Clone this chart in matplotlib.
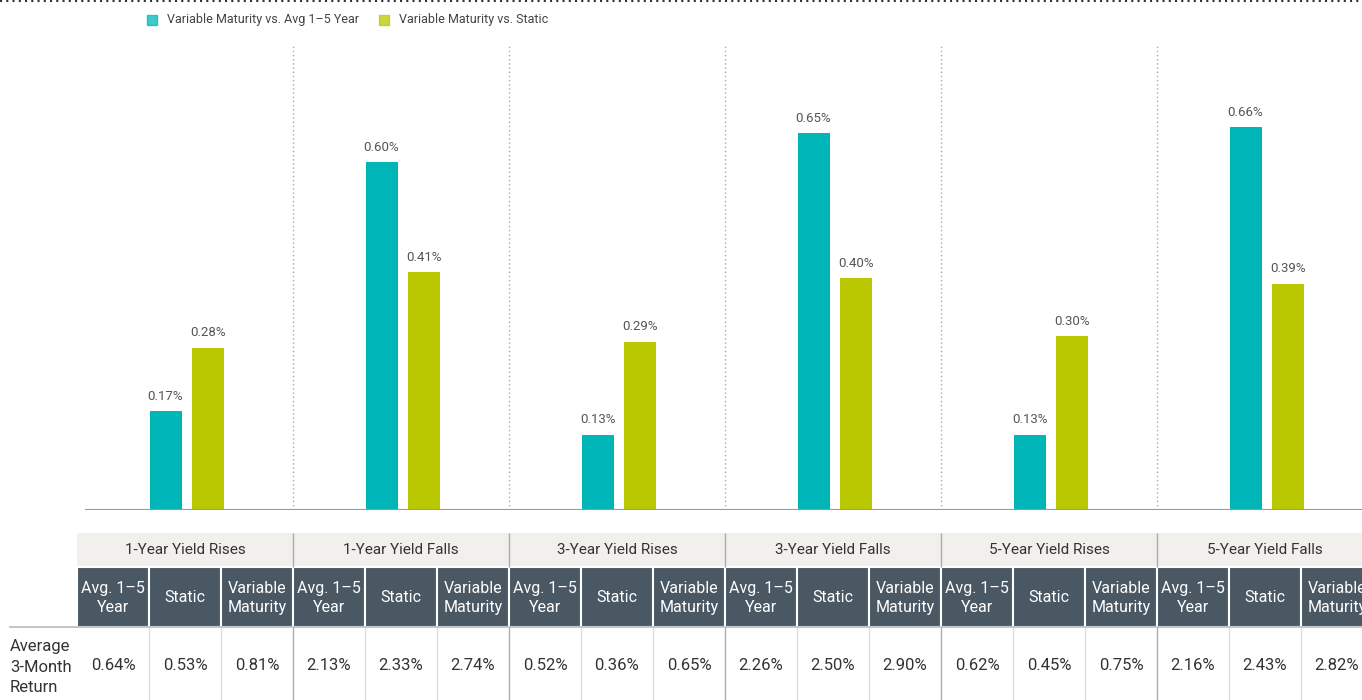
import matplotlib.pyplot as plt
from matplotlib.patches import Rectangle

plt.rcParams["font.family"] = ["Roboto", "DejaVu Sans"]

# Data
scenarios = ["1-Year Yield Rises", "1-Year Yield Falls", "3-Year Yield Rises",
             "3-Year Yield Falls", "5-Year Yield Rises", "5-Year Yield Falls"]
vs_avg = [0.17, 0.60, 0.13, 0.65, 0.13, 0.66]
vs_static = [0.28, 0.41, 0.29, 0.40, 0.30, 0.39]
sub_cols = ["Avg. 1\u20135\nYear", "Static", "Variable\nMaturity"]
avg_ret = [0.64, 2.13, 0.52, 2.26, 0.62, 2.16]
static_ret = [0.53, 2.33, 0.36, 2.50, 0.45, 2.43]
var_ret = [0.81, 2.74, 0.65, 2.90, 0.75, 2.82]
legend_labels = ["Variable Maturity vs. Avg 1\u20135 Year", "Variable Maturity vs. Static"]

teal = "#00b6b9"
lime = "#b9c800"
dark = "#4a5863"
light = "#f1f0ed"

W, H = 1362, 700
fig = plt.figure(figsize=(W / 100, H / 100), dpi=100)

gw = 216  # group width in px
left = 77
xmax = (W - left) / gw

# --- bar chart ---
ax = fig.add_axes([left / W, 190 / H, (W - left) / W, 510 / H])
n = len(scenarios)
xs = [i + 0.5 for i in range(n)]
bw = 32 / gw
b1 = ax.bar([x - 0.09 for x in xs], vs_avg, width=bw, color=teal)
b2 = ax.bar([x + 0.105 for x in xs], vs_static, width=bw, color=lime)
for bars, vals in [(b1, vs_avg), (b2, vs_static)]:
    for b, v in zip(bars, vals):
        ax.annotate(f"{v:.2f}%", (b.get_x() + b.get_width() / 2, v),
                    xytext=(0, 6), textcoords="offset points",
                    ha="center", va="bottom", fontsize=9.5, color="#555555")
ax.vlines(range(1, n), 0, (510 - 45) / 580, colors="#aaaaaa",
          linestyles=(0, (1, 2)), lw=1)
ax.hlines(0, 8 / gw, xmax, colors="#999999", lw=1.5)
ax.set_xlim(0, xmax)
ax.set_ylim(0, 510 / 580)
ax.axis("off")

# top dotted rule
fig.add_artist(plt.Line2D([0, 1], [0.998, 0.998], color="#333333",
                          lw=1.5, ls=(0, (1, 2)), transform=fig.transFigure))

# legend
for k, (lab, c) in enumerate(zip(legend_labels, [teal, lime])):
    x0 = 147 + 232 * k
    fig.add_artist(Rectangle((x0 / W, 1 - 25 / H), 10 / W, 10 / H,
                             color=c, alpha=0.75, transform=fig.transFigure))
    fig.text((x0 + 20) / W, 1 - 20 / H, lab, fontsize=9, color="#444444",
             va="center", ha="left")

# --- table ---
tb = fig.add_axes([left / W, 0, (W - left) / W, (H - 533) / H])
tb.set_xlim(0, xmax)
tb.set_ylim(H, 533)
tb.axis("off")
cols = [avg_ret, static_ret, var_ret]
for g in range(n):
    tb.add_patch(Rectangle((g, 533), 1, 34, color=light, lw=0))
    tb.text(g + 0.5, 550, scenarios[g], ha="center", va="center",
            fontsize=11, color="#333333")
    for j in range(3):
        x0 = g + j / 3
        tb.add_patch(Rectangle((x0, 567), 1 / 3, 60, facecolor=dark,
                               edgecolor="white", lw=1.5))
        tb.text(x0 + 1 / 6, 598, sub_cols[j], ha="center", va="center",
                fontsize=11.5, color="white", linespacing=1.3)
        tb.text(x0 + 1 / 6, 666, f"{cols[j][g]:.2f}%", ha="center",
                va="center", fontsize=12, color="#333333")
        if j > 0:
            tb.vlines(x0, 627, H, colors="#dddddd", lw=1)
    if g > 0:
        tb.vlines(g, 533, 567, colors="#aaaaaa", lw=1)
        tb.vlines(g, 627, H, colors="#aaaaaa", lw=1)

fig.add_artist(plt.Line2D([10 / W, 1], [1 - 627 / H, 1 - 627 / H],
                          color="#bbbbbb", lw=1.2, transform=fig.transFigure))
fig.text(10 / W, 1 - 667 / H, "Average\n3-Month\nReturn", fontsize=12,
         color="#333333", ha="left", va="center", linespacing=1.45)

plt.savefig("out.png", dpi=100)
